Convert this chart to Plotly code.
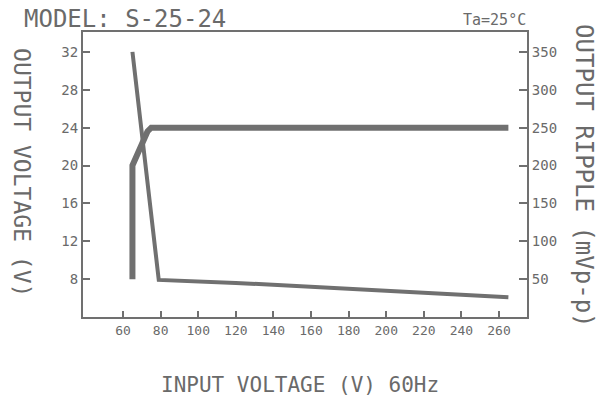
import plotly.graph_objects as go

# Output voltage curve (left axis, V)
vin_voltage = [65, 65, 73, 75, 265]
vout_voltage = [8, 20, 23.6, 24, 24]

# Output ripple curve (right axis, mVp-p)
vin_ripple = [65, 79, 120, 160, 200, 240, 265]
ripple_mv = [350, 49, 45, 40, 35, 30, 26]

x_ticks = [60, 80, 100, 120, 140, 160, 180, 200, 220, 240, 260]
left_ticks = [8, 12, 16, 20, 24, 28, 32]
right_ticks = [50, 100, 150, 200, 250, 300, 350]

GREY = "#707070"
TXT = "#6a6a6a"
FONT = "DejaVu Sans Mono"

fig = go.Figure()
fig.add_trace(go.Scatter(x=vin_voltage, y=vout_voltage, mode="lines",
                         line=dict(color=GREY, width=6), yaxis="y",
                         showlegend=False, hoverinfo="skip"))
fig.add_trace(go.Scatter(x=vin_ripple, y=ripple_mv, mode="lines",
                         line=dict(color=GREY, width=4), yaxis="y2",
                         showlegend=False, hoverinfo="skip"))

fig.update_layout(
    width=600, height=400,
    margin=dict(l=83, r=73, t=32, b=83),
    paper_bgcolor="white", plot_bgcolor="white",
    font=dict(family=FONT, color=TXT, size=13),
    xaxis=dict(range=[38.7, 274.9], tickvals=x_ticks, ticks="inside", ticklen=6,
               tickcolor=GREY, tickwidth=1.5, showline=True, linecolor=GREY,
               linewidth=2, mirror=True, showgrid=False, zeroline=False,
               tickfont=dict(family=FONT, size=13, color=TXT)),
    yaxis=dict(range=[4, 34.1], tickvals=left_ticks, ticks="inside", ticklen=7,
               tickcolor=GREY, tickwidth=1.5, showline=True, linecolor=GREY,
               linewidth=2, showgrid=False, zeroline=False,
               tickfont=dict(family=FONT, size=14, color=TXT)),
    yaxis2=dict(range=[0, 376.25], tickvals=right_ticks, ticks="inside", ticklen=8,
                tickcolor=GREY, tickwidth=1.5, showline=True, linecolor=GREY,
                linewidth=2, showgrid=False, zeroline=False, overlaying="y",
                side="right",
                tickfont=dict(family=FONT, size=14, color=TXT)),
)

annotations = [
    dict(text="MODEL: S-25-24", x=-0.137, y=1.0456, xanchor="left", yanchor="middle",
         font=dict(size=24, family=FONT, color=TXT)),
    dict(text="Ta=25°C", x=1.0023, y=1.042, xanchor="right", yanchor="middle",
         font=dict(size=15, family=FONT, color=TXT)),
    dict(text="OUTPUT VOLTAGE (V)", x=-0.1374, y=0.505, xanchor="center", yanchor="middle",
         textangle=90, font=dict(size=23, family=FONT, color=TXT)),
    dict(text="OUTPUT RIPPLE (mVp-p)", x=1.128, y=0.495, xanchor="center", yanchor="middle",
         textangle=90, font=dict(size=24, family=FONT, color=TXT)),
    dict(text="INPUT VOLTAGE (V) 60Hz", x=0.489, y=-0.2386, xanchor="center", yanchor="middle",
         font=dict(size=21, family=FONT, color=TXT)),
]
for a in annotations:
    a.update(xref="paper", yref="paper", showarrow=False)
fig.update_layout(annotations=annotations)

fig.write_html("out.html", config={"displayModeBar": False},
               post_script="document.body.style.margin='0';document.body.style.padding='0';")
